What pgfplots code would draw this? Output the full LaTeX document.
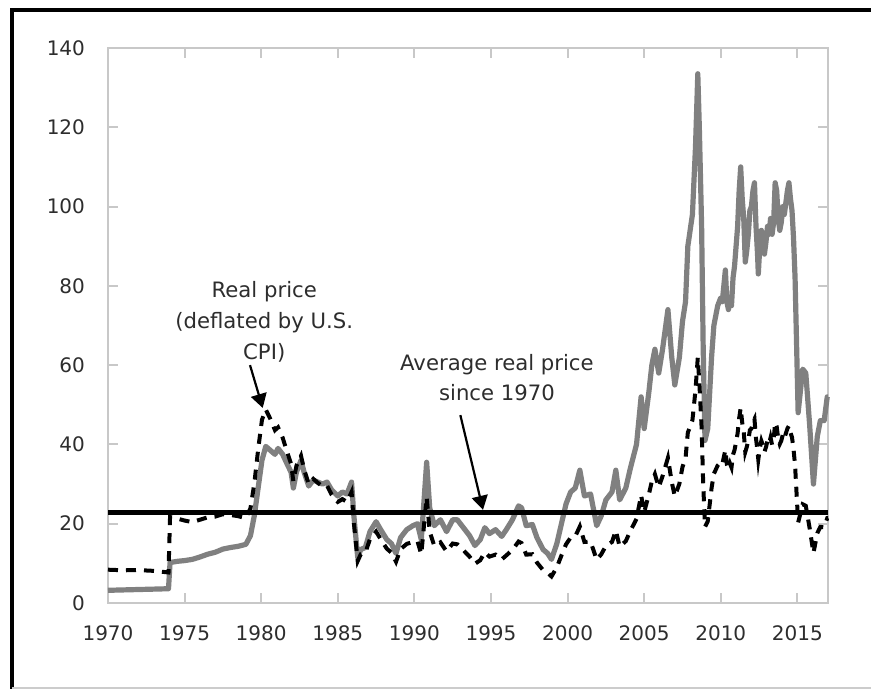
\documentclass[border=0pt]{standalone}
\usepackage{fontspec}
\setmainfont{DejaVu Sans}
\usepackage{pgfplots}
\pgfplotsset{compat=1.18}
\usetikzlibrary{arrows.meta}
\definecolor{nomgray}{RGB}{128,128,128}
\definecolor{axgray}{RGB}{200,200,200}
\definecolor{txt}{RGB}{45,45,45}
\begin{document}
\begin{tikzpicture}
\useasboundingbox (0,0) rectangle (435.5pt,344.5pt);
\fill[white] (0,0) rectangle (435.5pt,344.5pt);
\begin{axis}[
  scale only axis,
  width=360pt, height=277.5pt,
  at={(54pt,43pt)}, anchor=south west,
  xmin=1970, xmax=2017, ymin=0, ymax=140,
  xtick={1970,1975,...,2015},
  ytick={0,20,...,140},
  tick align=inside,
  major tick length=5pt,
  axis line style={axgray, line width=1.2pt},
  tick style={axgray, line width=1pt},
  /pgf/number format/1000 sep={},
  /pgf/number format/assume math mode=true,
  tick label style={font=\fontsize{10}{12}\selectfont, text=txt},
  x tick label style={yshift=-8pt},
  y tick label style={xshift=-8pt},
  clip=false,
]
% Nominal price (gray solid)
\addplot[nomgray, line width=2.6pt, line join=round] coordinates {
(1970.0,3.2) (1971.0,3.3) (1972.0,3.4) (1973.0,3.5) (1973.95,3.6)
(1974.05,10.2) (1974.5,10.5) (1975.0,10.7) (1975.5,11.0) (1976.0,11.6)
(1976.5,12.3) (1977.0,12.8) (1977.5,13.6) (1978.0,14.0) (1978.5,14.3)
(1979.0,14.8) (1979.3,17.0) (1979.55,22) (1979.8,29) (1980.05,36)
(1980.3,39.5) (1980.6,38.5) (1980.9,37.5) (1981.1,39) (1981.4,37.5)
(1981.7,35) (1981.95,33) (1982.1,29) (1982.3,33) (1982.6,36)
(1982.8,33) (1983.1,29.5) (1983.4,31) (1983.7,30.5) (1984.0,30)
(1984.3,30.5) (1984.6,28.5) (1985.0,27) (1985.3,28) (1985.6,27.5)
(1985.9,30.5) (1986.05,22) (1986.3,11.5) (1986.5,13.5) (1986.8,14)
(1987.1,18) (1987.5,20.5) (1987.8,18.5) (1988.2,16) (1988.5,15)
(1988.8,12.5) (1989.1,16.5) (1989.5,18.5) (1989.9,19.5) (1990.2,20)
(1990.45,16) (1990.65,27) (1990.8,35.5) (1991.0,24) (1991.3,19.5)
(1991.7,21) (1992.1,18) (1992.5,21) (1992.8,21) (1993.2,19)
(1993.6,17) (1993.95,14.5) (1994.3,16) (1994.6,19) (1994.9,17.5)
(1995.3,18.5) (1995.7,16.8) (1996.0,18.5) (1996.4,21) (1996.8,24.5)
(1997.0,24) (1997.3,19.5) (1997.7,19.8) (1998.0,16.5) (1998.4,13.5)
(1998.7,12.5) (1998.95,11) (1999.3,15) (1999.6,20) (1999.9,25)
(2000.2,28) (2000.5,29) (2000.8,33.5) (2001.1,27) (2001.5,27.5)
(2001.9,19.5) (2002.2,22) (2002.5,26) (2002.9,28) (2003.15,33.5)
(2003.4,26) (2003.8,29) (2004.1,34) (2004.5,40) (2004.8,52)
(2005.0,44) (2005.3,53) (2005.5,60) (2005.7,64) (2005.95,58)
(2006.2,64) (2006.55,74) (2006.8,62) (2007.0,55) (2007.3,62)
(2007.5,71) (2007.7,76) (2007.85,90) (2008.0,94) (2008.15,98)
(2008.35,115) (2008.5,133.5) (2008.6,120) (2008.75,95) (2008.85,65)
(2008.97,41) (2009.15,44) (2009.4,62) (2009.55,70) (2009.8,75)
(2010.0,77) (2010.1,76) (2010.2,80) (2010.3,84) (2010.4,76)
(2010.5,74) (2010.6,77) (2010.7,75) (2010.8,82) (2010.9,85)
(2011.0,90) (2011.1,95) (2011.2,104) (2011.3,110) (2011.4,102)
(2011.5,97) (2011.6,86) (2011.7,89) (2011.8,93) (2011.9,99)
(2012.0,100) (2012.1,104) (2012.2,106) (2012.3,95) (2012.4,88)
(2012.45,83) (2012.55,90) (2012.65,94) (2012.75,92) (2012.85,88)
(2012.95,91) (2013.05,95) (2013.15,93) (2013.25,97) (2013.35,93)
(2013.45,96) (2013.55,106) (2013.65,104) (2013.75,97) (2013.85,94)
(2013.95,96) (2014.05,100) (2014.15,98) (2014.25,101) (2014.35,104)
(2014.45,106) (2014.55,102) (2014.65,99) (2014.75,92) (2014.85,82)
(2014.95,65) (2015.05,48) (2015.35,59) (2015.55,58)
(2015.8,45) (2016.05,30) (2016.3,42) (2016.5,46) (2016.75,46)
(2016.95,52) (2017.0,52)
};
% Real price (black dashed)
\addplot[black, line width=2pt, dash pattern=on 5pt off 4pt] coordinates {
(1970.0,8.4) (1971.0,8.25) (1972.0,8.3) (1973.0,8.1) (1973.95,7.7)
(1974.05,21.7) (1974.5,21.3) (1975.0,20.8) (1975.5,20.4) (1976.0,21.0)
(1976.5,21.6) (1977.0,21.8) (1977.5,22.4) (1978.0,22.2) (1978.5,21.9)
(1979.0,21.4) (1979.3,23.9) (1979.55,30.1) (1979.8,38.7) (1980.05,46.2)
(1980.3,48.8) (1980.6,46.4) (1980.9,43.6) (1981.1,44.3) (1981.4,41.7)
(1981.7,38.0) (1981.95,35.1) (1982.1,30.7) (1982.3,34.6) (1982.6,37.1)
(1982.8,33.7) (1983.1,30.0) (1983.4,31.3) (1983.7,30.3) (1984.0,29.4)
(1984.3,29.6) (1984.6,27.3) (1985.0,25.5) (1985.3,26.2) (1985.6,25.5)
(1985.9,28.0) (1986.05,20.2) (1986.3,10.6) (1986.5,12.3) (1986.8,12.7)
(1987.1,16.1) (1987.5,18.0) (1987.8,16.1) (1988.2,13.7) (1988.5,12.7)
(1988.8,10.4) (1989.1,13.6) (1989.5,14.9) (1989.9,15.4) (1990.2,15.6)
(1990.45,12.3) (1990.65,20.5) (1990.8,26.7) (1991.0,18.0) (1991.3,14.4)
(1991.7,15.3) (1992.1,13.0) (1992.5,15.0) (1992.8,14.8) (1993.2,13.3)
(1993.6,11.7) (1993.95,9.9) (1994.3,10.8) (1994.6,12.8) (1994.9,11.7)
(1995.3,12.2) (1995.7,11.0) (1996.0,12.0) (1996.4,13.4) (1996.8,15.5)
(1997.0,15.1) (1997.3,12.2) (1997.7,12.3) (1998.0,10.2) (1998.4,8.3)
(1998.7,7.6) (1998.95,6.7) (1999.3,9.0) (1999.6,12.0) (1999.9,14.8)
(2000.2,16.5) (2000.5,16.8) (2000.8,19.3) (2001.1,15.4) (2001.5,15.5)
(2001.9,10.9) (2002.2,12.3) (2002.5,14.4) (2002.9,15.4) (2003.15,18.3)
(2003.4,14.2) (2003.8,15.6) (2004.1,18.2) (2004.5,21.2) (2004.8,27.2)
(2005.0,22.9) (2005.3,27.3) (2005.5,30.7) (2005.7,32.5) (2005.95,29.2)
(2006.2,32.0) (2006.55,36.6) (2006.8,30.5) (2007.0,26.9) (2007.3,30.1)
(2007.5,34.3) (2007.7,36.5) (2007.85,43.0) (2008.0,44.5) (2008.15,46.1)
(2008.35,53.7) (2008.5,61.9) (2008.6,55.6) (2008.75,44.2) (2008.85,30.4)
(2008.97,19.2) (2009.15,20.6) (2009.4,29.0) (2009.55,32.6) (2009.8,34.7)
(2010.0,35.5) (2010.1,35.0) (2010.2,36.8) (2010.3,38.6) (2010.4,34.9)
(2010.5,33.9) (2010.6,35.2) (2010.7,34.2) (2010.8,37.4) (2010.9,38.6)
(2011.0,40.7) (2011.1,42.8) (2011.2,46.6) (2011.3,49.2) (2011.4,45.5)
(2011.5,43.1) (2011.6,38.1) (2011.7,39.4) (2011.8,41.1) (2011.9,43.6)
(2012.0,44.0) (2012.1,45.6) (2012.2,46.4) (2012.3,41.5) (2012.4,38.3)
(2012.45,36.2) (2012.55,39.1) (2012.65,40.9) (2012.75,39.8) (2012.85,38.1)
(2012.95,39.3) (2013.05,40.9) (2013.15,40.1) (2013.25,41.7) (2013.35,39.9)
(2013.45,41.2) (2013.55,45.5) (2013.65,44.5) (2013.75,41.5) (2013.85,40.1)
(2013.95,40.9) (2014.05,42.5) (2014.15,41.5) (2014.25,42.8) (2014.35,44.0)
(2014.45,44.7) (2014.55,43.0) (2014.65,41.8) (2014.75,38.8) (2014.85,34.7)
(2014.95,27.5) (2015.05,20.3) (2015.35,24.9) (2015.55,24.5)
(2015.8,18.9) (2016.05,12.6) (2016.3,17.6) (2016.5,19.2) (2016.75,19.1)
(2016.95,21.4) (2017.0,21.4)
};
% Average real price since 1970
\addplot[black, line width=2.6pt] coordinates {(1970,22.8) (2017,22.8)};
% Annotations
\node[align=center, text=txt, font=\fontsize{10.6}{15.5}\selectfont] at (axis cs:1980.2,71.0)
  {Real price\\(deflated by U.S.\\CPI)};
\draw[black, line width=1.1pt, -{Triangle[width=8pt,length=7pt]}] (axis cs:1979.27,60.0) -- (axis cs:1980.1,49.2);
\node[align=center, text=txt, font=\fontsize{10.6}{15}\selectfont] at (axis cs:1995.39,56.8)
  {Average real price\\since 1970};
\draw[black, line width=1.1pt, -{Triangle[width=8pt,length=7pt]}] (axis cs:1993.0,47.4) -- (axis cs:1994.48,23.5);
\end{axis}
% outer frame
\draw[black, line width=2pt] (6pt,0) -- (6pt,339.5pt) -- (435.5pt,339.5pt);
\draw[gray!40, line width=0.8pt] (6pt,0.6pt) -- (435.5pt,0.6pt);
\end{tikzpicture}
\end{document}
